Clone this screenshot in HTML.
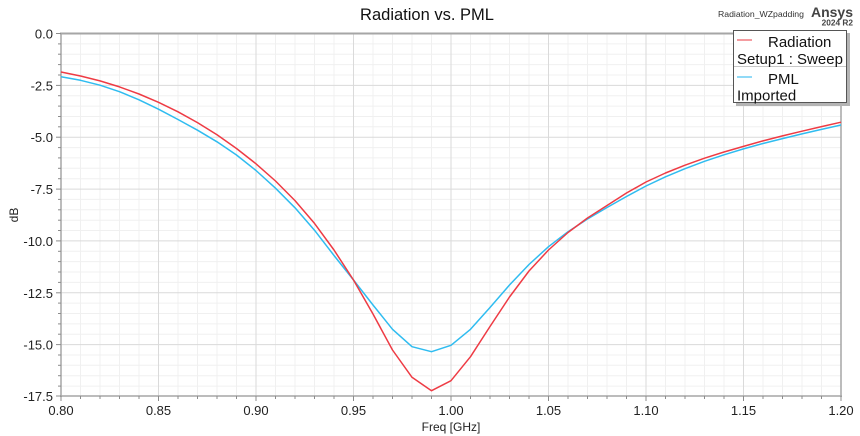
<!DOCTYPE html>
<html><head><meta charset="utf-8"><style>
html,body{margin:0;padding:0;background:#fff;}
svg{display:block;}
text{font-family:"Liberation Sans",Arial,sans-serif;}
</style></head><body>
<svg width="860" height="436" viewBox="0 0 860 436" xmlns="http://www.w3.org/2000/svg">
<rect width="860" height="436" fill="#fff"/>
<g stroke="#f0f0f0" stroke-width="1">
<line x1="80.5" y1="34" x2="80.5" y2="396"/><line x1="100" y1="34" x2="100" y2="396"/><line x1="119.5" y1="34" x2="119.5" y2="396"/><line x1="139" y1="34" x2="139" y2="396"/>
<line x1="178" y1="34" x2="178" y2="396"/><line x1="197.5" y1="34" x2="197.5" y2="396"/><line x1="217" y1="34" x2="217" y2="396"/><line x1="236.5" y1="34" x2="236.5" y2="396"/>
<line x1="275.5" y1="34" x2="275.5" y2="396"/><line x1="295" y1="34" x2="295" y2="396"/><line x1="314.5" y1="34" x2="314.5" y2="396"/><line x1="334" y1="34" x2="334" y2="396"/>
<line x1="373" y1="34" x2="373" y2="396"/><line x1="392.5" y1="34" x2="392.5" y2="396"/><line x1="412" y1="34" x2="412" y2="396"/><line x1="431.5" y1="34" x2="431.5" y2="396"/>
<line x1="470.5" y1="34" x2="470.5" y2="396"/><line x1="490" y1="34" x2="490" y2="396"/><line x1="509.5" y1="34" x2="509.5" y2="396"/><line x1="529" y1="34" x2="529" y2="396"/>
<line x1="568" y1="34" x2="568" y2="396"/><line x1="587.5" y1="34" x2="587.5" y2="396"/><line x1="607" y1="34" x2="607" y2="396"/><line x1="626.5" y1="34" x2="626.5" y2="396"/>
<line x1="665.5" y1="34" x2="665.5" y2="396"/><line x1="685" y1="34" x2="685" y2="396"/><line x1="704.5" y1="34" x2="704.5" y2="396"/><line x1="724" y1="34" x2="724" y2="396"/>
<line x1="763" y1="34" x2="763" y2="396"/><line x1="782.5" y1="34" x2="782.5" y2="396"/><line x1="802" y1="34" x2="802" y2="396"/><line x1="821.5" y1="34" x2="821.5" y2="396"/>
<line x1="61" y1="43.9" x2="841" y2="43.9"/><line x1="61" y1="54.2" x2="841" y2="54.2"/><line x1="61" y1="64.6" x2="841" y2="64.6"/><line x1="61" y1="75" x2="841" y2="75"/>
<line x1="61" y1="95.7" x2="841" y2="95.7"/><line x1="61" y1="106.1" x2="841" y2="106.1"/><line x1="61" y1="116.5" x2="841" y2="116.5"/><line x1="61" y1="126.8" x2="841" y2="126.8"/>
<line x1="61" y1="147.6" x2="841" y2="147.6"/><line x1="61" y1="157.9" x2="841" y2="157.9"/><line x1="61" y1="168.3" x2="841" y2="168.3"/><line x1="61" y1="178.7" x2="841" y2="178.7"/>
<line x1="61" y1="199.4" x2="841" y2="199.4"/><line x1="61" y1="209.8" x2="841" y2="209.8"/><line x1="61" y1="220.2" x2="841" y2="220.2"/><line x1="61" y1="230.5" x2="841" y2="230.5"/>
<line x1="61" y1="251.3" x2="841" y2="251.3"/><line x1="61" y1="261.6" x2="841" y2="261.6"/><line x1="61" y1="272" x2="841" y2="272"/><line x1="61" y1="282.4" x2="841" y2="282.4"/>
<line x1="61" y1="303.1" x2="841" y2="303.1"/><line x1="61" y1="313.5" x2="841" y2="313.5"/><line x1="61" y1="323.9" x2="841" y2="323.9"/><line x1="61" y1="334.2" x2="841" y2="334.2"/>
<line x1="61" y1="355" x2="841" y2="355"/><line x1="61" y1="365.3" x2="841" y2="365.3"/><line x1="61" y1="375.7" x2="841" y2="375.7"/><line x1="61" y1="386.1" x2="841" y2="386.1"/>
</g>
<g stroke="#dadada" stroke-width="1">
<line x1="158.5" y1="34" x2="158.5" y2="396"/><line x1="256" y1="34" x2="256" y2="396"/><line x1="353.5" y1="34" x2="353.5" y2="396"/><line x1="451" y1="34" x2="451" y2="396"/><line x1="548.5" y1="34" x2="548.5" y2="396"/><line x1="646" y1="34" x2="646" y2="396"/><line x1="743.5" y1="34" x2="743.5" y2="396"/>
<line x1="61" y1="85.4" x2="841" y2="85.4"/><line x1="61" y1="137.2" x2="841" y2="137.2"/><line x1="61" y1="189.1" x2="841" y2="189.1"/><line x1="61" y1="240.9" x2="841" y2="240.9"/><line x1="61" y1="292.8" x2="841" y2="292.8"/><line x1="61" y1="344.6" x2="841" y2="344.6"/>
</g>
<!-- axes frame -->
<line x1="60" y1="33.5" x2="842" y2="33.5" stroke="#a6a6a6" stroke-width="2"/>
<line x1="61" y1="33" x2="61" y2="397" stroke="#a6a6a6" stroke-width="1.5"/>
<line x1="841" y1="33" x2="841" y2="397" stroke="#a6a6a6" stroke-width="1.5"/>
<line x1="60" y1="396" x2="842" y2="396" stroke="#a6a6a6" stroke-width="1.5"/>
<!-- y ticks -->
<g stroke="#8c8c8c" stroke-width="1">
<line x1="58" y1="43.9" x2="61" y2="43.9"/><line x1="58" y1="54.2" x2="61" y2="54.2"/><line x1="58" y1="64.6" x2="61" y2="64.6"/><line x1="58" y1="75" x2="61" y2="75"/>
<line x1="58" y1="95.7" x2="61" y2="95.7"/><line x1="58" y1="106.1" x2="61" y2="106.1"/><line x1="58" y1="116.5" x2="61" y2="116.5"/><line x1="58" y1="126.8" x2="61" y2="126.8"/>
<line x1="58" y1="147.6" x2="61" y2="147.6"/><line x1="58" y1="157.9" x2="61" y2="157.9"/><line x1="58" y1="168.3" x2="61" y2="168.3"/><line x1="58" y1="178.7" x2="61" y2="178.7"/>
<line x1="58" y1="199.4" x2="61" y2="199.4"/><line x1="58" y1="209.8" x2="61" y2="209.8"/><line x1="58" y1="220.2" x2="61" y2="220.2"/><line x1="58" y1="230.5" x2="61" y2="230.5"/>
<line x1="58" y1="251.3" x2="61" y2="251.3"/><line x1="58" y1="261.6" x2="61" y2="261.6"/><line x1="58" y1="272" x2="61" y2="272"/><line x1="58" y1="282.4" x2="61" y2="282.4"/>
<line x1="58" y1="303.1" x2="61" y2="303.1"/><line x1="58" y1="313.5" x2="61" y2="313.5"/><line x1="58" y1="323.9" x2="61" y2="323.9"/><line x1="58" y1="334.2" x2="61" y2="334.2"/>
<line x1="58" y1="355" x2="61" y2="355"/><line x1="58" y1="365.3" x2="61" y2="365.3"/><line x1="58" y1="375.7" x2="61" y2="375.7"/><line x1="58" y1="386.1" x2="61" y2="386.1"/>
<line x1="56" y1="33.5" x2="61" y2="33.5"/><line x1="56" y1="85.4" x2="61" y2="85.4"/><line x1="56" y1="137.2" x2="61" y2="137.2"/><line x1="56" y1="189.1" x2="61" y2="189.1"/><line x1="56" y1="240.9" x2="61" y2="240.9"/><line x1="56" y1="292.8" x2="61" y2="292.8"/><line x1="56" y1="344.6" x2="61" y2="344.6"/><line x1="56" y1="396" x2="61" y2="396"/>
</g>
<!-- x ticks -->
<g stroke="#8c8c8c" stroke-width="1">
<line x1="80.5" y1="396" x2="80.5" y2="399"/><line x1="100" y1="396" x2="100" y2="399"/><line x1="119.5" y1="396" x2="119.5" y2="399"/><line x1="139" y1="396" x2="139" y2="399"/>
<line x1="178" y1="396" x2="178" y2="399"/><line x1="197.5" y1="396" x2="197.5" y2="399"/><line x1="217" y1="396" x2="217" y2="399"/><line x1="236.5" y1="396" x2="236.5" y2="399"/>
<line x1="275.5" y1="396" x2="275.5" y2="399"/><line x1="295" y1="396" x2="295" y2="399"/><line x1="314.5" y1="396" x2="314.5" y2="399"/><line x1="334" y1="396" x2="334" y2="399"/>
<line x1="373" y1="396" x2="373" y2="399"/><line x1="392.5" y1="396" x2="392.5" y2="399"/><line x1="412" y1="396" x2="412" y2="399"/><line x1="431.5" y1="396" x2="431.5" y2="399"/>
<line x1="470.5" y1="396" x2="470.5" y2="399"/><line x1="490" y1="396" x2="490" y2="399"/><line x1="509.5" y1="396" x2="509.5" y2="399"/><line x1="529" y1="396" x2="529" y2="399"/>
<line x1="568" y1="396" x2="568" y2="399"/><line x1="587.5" y1="396" x2="587.5" y2="399"/><line x1="607" y1="396" x2="607" y2="399"/><line x1="626.5" y1="396" x2="626.5" y2="399"/>
<line x1="665.5" y1="396" x2="665.5" y2="399"/><line x1="685" y1="396" x2="685" y2="399"/><line x1="704.5" y1="396" x2="704.5" y2="399"/><line x1="724" y1="396" x2="724" y2="399"/>
<line x1="763" y1="396" x2="763" y2="399"/><line x1="782.5" y1="396" x2="782.5" y2="399"/><line x1="802" y1="396" x2="802" y2="399"/><line x1="821.5" y1="396" x2="821.5" y2="399"/>
<line x1="61" y1="396" x2="61" y2="401"/><line x1="158.5" y1="396" x2="158.5" y2="401"/><line x1="256" y1="396" x2="256" y2="401"/><line x1="353.5" y1="396" x2="353.5" y2="401"/><line x1="451" y1="396" x2="451" y2="401"/><line x1="548.5" y1="396" x2="548.5" y2="401"/><line x1="646" y1="396" x2="646" y2="401"/><line x1="743.5" y1="396" x2="743.5" y2="401"/><line x1="841" y1="396" x2="841" y2="401"/>
</g>
<!-- y labels -->
<g font-size="13" fill="#222" text-anchor="end">
<text x="53" y="38.5">0.0</text>
<text x="53" y="90.4">-2.5</text>
<text x="53" y="142.2">-5.0</text>
<text x="53" y="194.1">-7.5</text>
<text x="53" y="245.9">-10.0</text>
<text x="53" y="297.8">-12.5</text>
<text x="53" y="349.6">-15.0</text>
<text x="53" y="401">-17.5</text>
</g>
<!-- x labels -->
<g font-size="13" fill="#222" text-anchor="middle">
<text x="61" y="415">0.80</text>
<text x="158.5" y="415">0.85</text>
<text x="256" y="415">0.90</text>
<text x="353.5" y="415">0.95</text>
<text x="451" y="415">1.00</text>
<text x="548.5" y="415">1.05</text>
<text x="646" y="415">1.10</text>
<text x="743.5" y="415">1.15</text>
<text x="841" y="415">1.20</text>
</g>
<text x="451" y="431" font-size="12" fill="#222" text-anchor="middle">Freq [GHz]</text>
<text x="0" y="0" font-size="12" fill="#222" text-anchor="middle" transform="translate(18,215) rotate(-90)">dB</text>
<!-- title -->
<text x="427" y="20" font-size="16.5" fill="#111" text-anchor="middle">Radiation vs. PML</text>
<text x="718" y="17" font-size="8.7" fill="#333">Radiation_WZpadding</text>
<text x="853" y="17" font-size="14" font-weight="bold" fill="#444" text-anchor="end">Ansys</text>
<text x="853" y="25.5" font-size="8.3" font-weight="bold" fill="#444" text-anchor="end">2024 R2</text>
<!-- series -->
<polyline fill="none" stroke="#2fbcf0" stroke-width="1.5" stroke-linejoin="round" points="61,76.7 80.5,80.3 100,85.2 119.5,91.7 139,99.8 158.5,109.2 178,119.5 197.5,130.2 217,141.8 236.5,155 256,170.5 275.5,188.2 295,207.8 314.5,230.2 334,255.5 353.5,280 373,305 392.5,329.3 412,346.7 431.5,351.7 451,345.3 470.5,329.3 490,307.5 509.5,285 529,264.5 548.5,246.7 568,231.7 587.5,219 607,207.5 626.5,196.5 646,186 665.5,176.8 685,168.7 704.5,161.3 724,154.8 743.5,148.9 763,143.5 782.5,138.6 802,133.9 821.5,129.4 841,125"/>
<polyline fill="none" stroke="#ee3b44" stroke-width="1.5" stroke-linejoin="round" points="61,72 80.5,76 100,80.9 119.5,86.9 139,94 158.5,102.3 178,111.8 197.5,122.6 217,134.8 236.5,148.5 256,163.8 275.5,181 295,200.6 314.5,223.4 334,250 353.5,280 373,314 392.5,350 412,377.3 431.5,390.7 451,380.7 470.5,356.7 490,326.5 509.5,297 529,271 548.5,250 568,232.5 587.5,218 607,205.5 626.5,193 646,182 665.5,173 685,165.2 704.5,158.2 724,152 743.5,146.4 763,140.9 782.5,135.9 802,131.2 821.5,126.6 841,122.2"/>
<!-- legend -->
<rect x="736" y="33" width="114" height="73" fill="#b4b4b4"/>
<rect x="733.5" y="30.5" width="113" height="72" fill="#fff" stroke="#555" stroke-width="1"/>
<line x1="734" y1="66.5" x2="846" y2="66.5" stroke="#c8c8c8" stroke-width="1"/>
<line x1="737" y1="40" x2="752" y2="40" stroke="#f07a80" stroke-width="1.5"/>
<line x1="737" y1="77" x2="752" y2="77" stroke="#6ccdf4" stroke-width="1.5"/>
<g font-size="15" fill="#111">
<text x="768" y="47">Radiation</text>
<text x="737" y="64">Setup1 : Sweep</text>
<text x="768" y="84">PML</text>
<text x="737" y="100.5">Imported</text>
</g>
</svg>
</body></html>
